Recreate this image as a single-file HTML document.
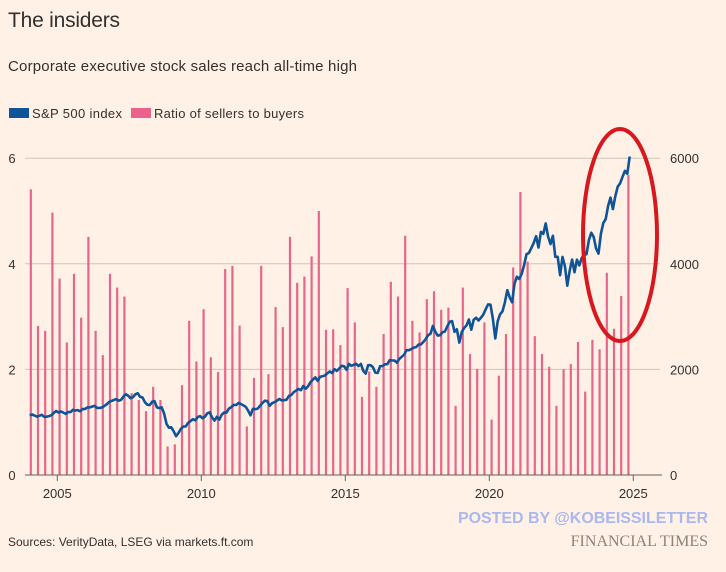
<!DOCTYPE html>
<html><head><meta charset="utf-8"><style>
body{margin:0;background:#fff1e5;width:726px;height:572px;overflow:hidden;font-family:"Liberation Sans",sans-serif;}
svg{position:absolute;left:0;top:0}
</style></head><body>
<svg width="726" height="572">
<text x="8" y="27" font-size="21" fill="#33302e" textLength="112">The insiders</text>
<text x="8" y="71" font-size="15" fill="#33302e" textLength="349">Corporate executive stock sales reach all-time high</text>
<g>
<rect x="9" y="108" width="20" height="10" fill="#0f5499"/>
<text x="32" y="118" font-size="13" fill="#33302e" textLength="90">S&amp;P 500 index</text>
<rect x="131" y="108" width="20" height="10" fill="#e9638d"/>
<text x="154" y="118" font-size="13" fill="#33302e" textLength="150">Ratio of sellers to buyers</text>
</g>
<g id="grid"></g><g id="bars"></g><g id="line"></g><g id="axes"></g>
<ellipse cx="620" cy="235" rx="37" ry="106" fill="none" stroke="#d7191f" stroke-width="4"/>
<text x="458" y="523" font-size="16" font-weight="bold" fill="#aab8ee" textLength="250">POSTED BY @KOBEISSILETTER</text>
<text x="708" y="546" font-size="16" text-anchor="end" fill="#8c8379" font-family="Liberation Serif,serif">FINANCIAL TIMES</text>
<text x="8" y="546" font-size="12" fill="#33302e">Sources: VerityData, LSEG via markets.ft.com</text>
</svg>
<script>
const ratio=[5.41,2.82,2.73,4.97,3.72,2.51,3.81,2.98,4.51,2.73,2.27,3.81,3.55,3.38,1.55,1.42,1.21,1.67,1.42,0.54,0.58,1.70,2.92,2.15,3.14,2.23,1.95,3.90,3.96,2.83,
0.92,1.84,3.96,1.91,3.18,2.80,4.51,3.64,3.76,4.14,5.00,2.75,2.76,2.46,3.54,2.89,1.48,1.96,1.67,2.67,3.66,3.38,4.53,2.92,2.70,3.33,3.48,3.13,3.17,
1.31,3.55,2.29,2.01,2.89,1.05,1.88,2.67,3.93,5.36,4.04,2.63,2.29,2.05,1.31,2.00,2.10,2.52,1.58,2.56,2.38,3.83,2.77,3.39,5.68];
const sp=[1131,1145,1126,1107,1121,1141,1102,1104,1115,1130,1174,1212,
1181,1204,1181,1157,1192,1191,1234,1220,1229,1207,1249,1248,
1280,1281,1295,1311,1270,1270,1277,1304,1336,1378,1401,1418,
1438,1407,1421,1482,1531,1503,1455,1474,1527,1549,1481,1468,
1379,1331,1323,1386,1400,1280,1267,1283,1165,969,896,903,
826,735,798,873,919,919,987,1021,1057,1036,1096,1115,
1074,1104,1169,1187,1089,1031,1102,1049,1141,1183,1181,1258,
1286,1327,1326,1364,1345,1321,1292,1219,1131,1253,1247,1258,
1312,1366,1408,1398,1310,1362,1379,1407,1441,1412,1416,1426,
1498,1515,1569,1598,1631,1606,1686,1633,1682,1757,1806,1848,
1783,1859,1872,1884,1924,1960,1931,2003,1972,2018,2068,2059,
1995,2105,2068,2086,2107,2063,2104,1972,1920,2079,2080,2044,
1940,1932,2060,2065,2097,2099,2174,2171,2168,2126,2199,2239,
2279,2364,2363,2384,2412,2423,2470,2472,2519,2575,2648,2674,
2824,2714,2641,2648,2705,2718,2816,2902,2914,2712,2760,2507,
2704,2784,2834,2946,2752,2942,2980,2926,2977,3038,3141,3231,
3226,2954,2585,2912,3044,3100,3271,3500,3363,3270,3622,3756,
3714,3811,3973,4181,4204,4298,4395,4523,4308,4605,4567,4766,
4516,4374,4530,4132,4132,3785,4130,3955,3586,3872,4080,3840,
4077,3970,4109,4169,4180,4450,4589,4508,4288,4194,4568,4770,
4846,5096,5254,5036,5278,5460,5522,5648,5762,5705,6032];
const yearTicks=[2005,2010,2015,2020,2025];
const leftTicks=[0,2,4,6];
const rightTicks=[0,2000,4000,6000];
const NS='http://www.w3.org/2000/svg';
const x=t=>28.5+(t-2004)*28.8;
const yL=v=>475-v*52.8;
const yR=v=>475-v*0.0528;
function mk(tag,attrs,parent){const e=document.createElementNS(NS,tag);for(const k in attrs)e.setAttribute(k,attrs[k]);document.getElementById(parent).appendChild(e);return e;}
leftTicks.forEach((v,i)=>{
 if(v>0){const g=mk('line',{x1:25,x2:660,y1:yL(v),y2:yL(v),stroke:'#cec6b9','stroke-width':1},'grid');
 
 }
 const t=mk('text',{x:12,y:yL(v)+5,'font-size':13,fill:'#33302e','text-anchor':'middle'},'axes');t.textContent=v;
 
 
 const r=mk('text',{x:670,y:yR(rightTicks[i])+5,'font-size':13,fill:'#33302e'},'axes');r.textContent=rightTicks[i];
 
 
});
ratio.forEach((v,i)=>{
 const bx=x(2004+i/4)+2.2;
 const b=mk('rect',{x:bx-1,y:yL(v),width:2.2,height:475-yL(v),fill:'#e5668c'},'bars');
 
 
});
const pts=sp.map((v,i)=>x(2004+(i+0.5)/12).toFixed(1)+','+yR(v).toFixed(1)).join(' ');
const pl=mk('polyline',{points:pts,fill:'none',stroke:'#0f5499','stroke-width':2.6,'stroke-linejoin':'round'},'line');


const base=mk('line',{x1:25,x2:662,y1:475,y2:475,stroke:'#66605c','stroke-width':1},'axes');


yearTicks.forEach(yv=>{
 const tk=mk('line',{x1:x(yv),x2:x(yv),y1:475,y2:481,stroke:'#66605c'},'axes');
 
 
 const t=mk('text',{x:x(yv),y:498,'font-size':13,fill:'#33302e','text-anchor':'middle'},'axes');t.textContent=yv;
 
 
});
</script>
</body></html>
